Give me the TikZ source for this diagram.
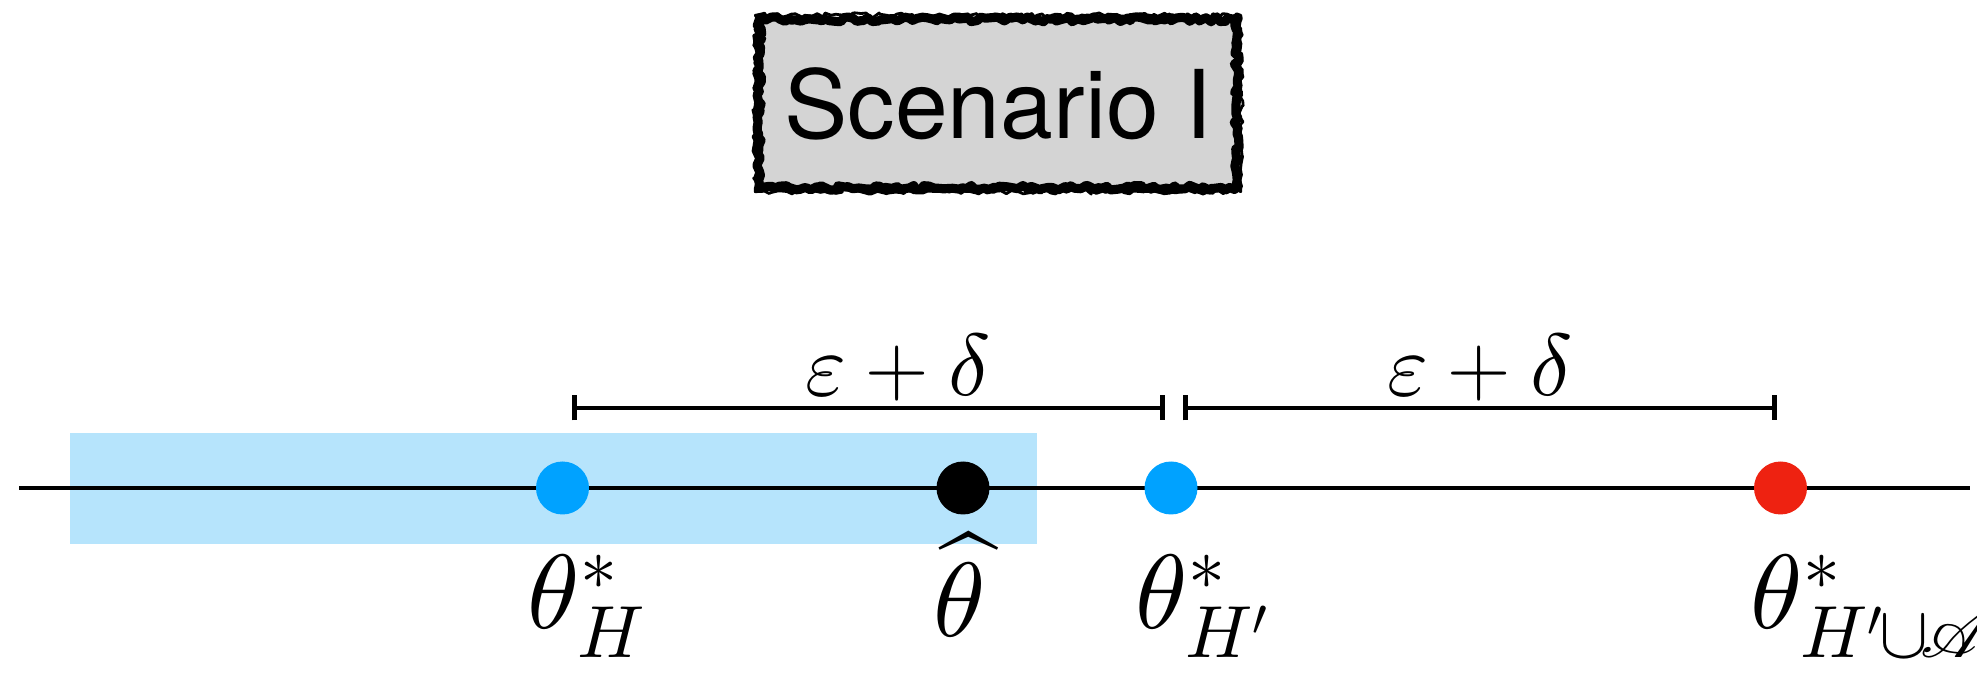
\RequirePackage{fix-cm}
\documentclass[tikz,border=0pt]{standalone}
\usepackage{amsmath}
\usepackage{amssymb}
\usepackage{mathrsfs}
\usepackage{fontspec}
\newfontfamily\heros{TeX Gyre Heros}
\DeclareFontShape{OML}{cmm}{m}{it}{<->cmmi10}{}
\DeclareFontShape{OMS}{cmsy}{m}{n}{<->cmsy10}{}
\usetikzlibrary{
    arrows.meta,             % 区间两端的竖线
    decorations.pathmorphing % 粗糙的标题框
}

\definecolor{dotblue}{RGB}{0,162,255}
\definecolor{bandblue}{RGB}{182,228,252}
\definecolor{dotred}{RGB}{238,34,17}
\definecolor{boxgray}{RGB}{212,212,212}

\begin{document}
\begin{tikzpicture}[
    >=stealth,
    ptdot/.style={circle, inner sep=0pt, minimum size=0.53cm},
    thlabel/.style={font=\fontsize{30}{36}\selectfont, inner sep=0pt},
    gaplabel/.style={font=\fontsize{25}{30}\selectfont, anchor=base},
    gap/.style={line width=1.3pt, {Bar[width=0.25cm]}-{Bar[width=0.25cm]}},
    rough/.style={decorate, decoration={random steps, segment length=1.2pt,
        amplitude=0.7pt, pre length=1pt, post length=1pt}},
    titlebox/.style={fill=boxgray, minimum width=4.76cm, minimum height=1.67cm,
        inner sep=0pt, font=\heros\fontsize{27}{32}\selectfont}
]
    \pgfmathsetseed{7}
    \useasboundingbox (0,0) rectangle (19.77,6.75);

    % 浅蓝色区间
    \fill[bandblue] (0.70,1.31) rectangle (10.37,2.42);

    % 数轴
    \coordinate (axisL) at (0.19,1.87);
    \coordinate (axisR) at (19.70,1.87);
    \draw[line width=1.4pt] (axisL) -- (axisR);

    % 四个点
    \node[ptdot, fill=dotblue] (thH) at (5.625,1.87) {};
    \node[ptdot, fill=black] (thhat) at (9.63,1.87) {};
    \node[ptdot, fill=dotblue] (thHp) at (11.71,1.87) {};
    \node[ptdot, fill=dotred] (thHA) at (17.805,1.87) {};

    % 点下方的文字
    \node[thlabel, anchor=base west] (labH) at (5.27,0.47) {$\theta^*_H$};
    \node[thlabel, anchor=base] (labhat) at (9.60,0.38) {$\widehat{\theta}$};
    \node[thlabel, anchor=base west] (labHp) at (11.35,0.47) {$\theta^*_{H'}$};
    \node[thlabel, anchor=base west] (labHA) at (17.50,0.47)
        {$\theta^*_{H'\mkern-1mu\cup\mkern-2mu\mathscr{A}}$};

    % 两段 epsilon+delta
    \coordinate (g1L) at (5.72,2.67);
    \coordinate (g1R) at (11.65,2.67);
    \coordinate (g2L) at (11.83,2.67);
    \coordinate (g2R) at (17.77,2.67);
    \draw[gap] (g1L) -- (g1R);
    \draw[gap] (g2L) -- (g2R);
    \node[gaplabel] (d1) at (8.98,2.79) {$\varepsilon+\delta$};
    \node[gaplabel] (d2) at (14.80,2.79) {$\varepsilon+\delta$};

    % 标题框
    \node[titlebox] (title) at (9.98,5.715) {Scenario I};
    \draw[rough, line width=2.6pt, line join=round]
        (title.south west) rectangle (title.north east);
    \draw[rough, line width=0.8pt, line join=round]
        ([shift={(-0.04,-0.04)}]title.south west) rectangle ([shift={(0.04,0.04)}]title.north east);
\end{tikzpicture}
\end{document}
